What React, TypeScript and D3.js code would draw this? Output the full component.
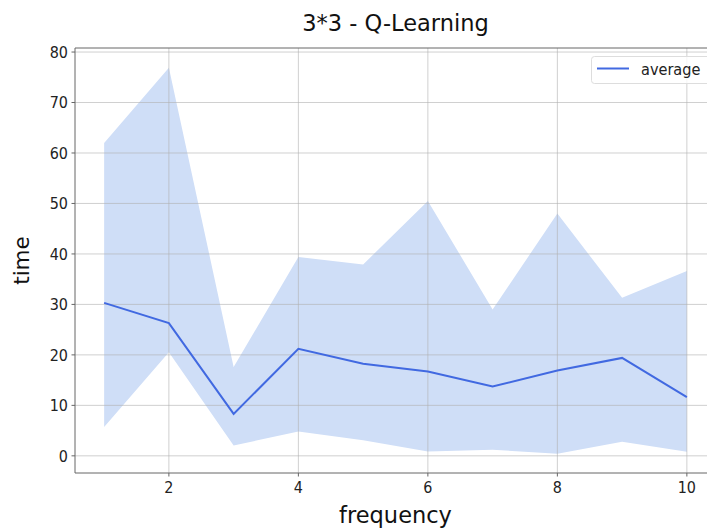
import React from 'react';
import * as d3 from 'd3';

// frequency values on the x axis
const frequency = [1, 2, 3, 4, 5, 6, 7, 8, 9, 10];
// mean time per frequency
const average = [30.3, 26.3, 8.3, 21.2, 18.25, 16.7, 13.75, 16.9, 19.4, 11.65];
// band around the mean
const upper = [62.0, 76.9, 17.6, 39.4, 37.9, 50.5, 29.0, 48.0, 31.3, 36.6];
const lower = [5.7, 20.5, 2.05, 4.8, 3.1, 0.85, 1.2, 0.4, 2.8, 0.8];
const xTicks = [2, 4, 6, 8, 10];
const yTicks = [0, 10, 20, 30, 40, 50, 60, 70, 80];

const width = 707;
const height = 530;
const margin = { left: 75, top: 48, right: -9, bottom: 57 };
const font = 'DejaVu Sans, sans-serif';

// tick and legend text in the picture is a bit narrow, so squeeze it horizontally
function NarrowText(props: { x: number; y: number; anchor?: string; dy?: string; sx?: number; children: any }) {
  const sx = props.sx ?? 0.87;
  return (
    <g transform={`translate(${props.x},${props.y}) scale(${sx},1)`}>
      <text x={0} y={0} dy={props.dy} textAnchor={props.anchor || 'start'} fontFamily={font} fontSize={16.5} fill="#222">
        {props.children}
      </text>
    </g>
  );
}

export default function App() {
  const innerRight = width - margin.right;
  const innerBottom = height - margin.bottom;

  const x = d3.scaleLinear().domain([0.55, 10.45]).range([margin.left, innerRight]);
  const y = d3.scaleLinear().domain([-3.4, 80.8]).range([innerBottom, margin.top]);

  const band = d3.area<number>()
    .x((d, i) => x(frequency[i]))
    .y0((d, i) => y(lower[i]))
    .y1((d) => y(d));

  const line = d3.line<number>()
    .x((d, i) => x(frequency[i]))
    .y((d) => y(d));

  return (
    <div style={{ position: 'fixed', left: 0, top: 0 }}>
      <svg width={width} height={height} style={{ display: 'block', background: '#fff' }}>
        <path d={band(upper) || ''} fill="#cfdef7" />
        {/* grid */}
        {xTicks.map((t) => (
          <line key={'gx' + t} x1={x(t)} x2={x(t)} y1={margin.top} y2={innerBottom}
            stroke="#b0b0b0" strokeOpacity={0.75} strokeWidth={0.8} />
        ))}
        {yTicks.map((t) => (
          <line key={'gy' + t} x1={margin.left} x2={innerRight} y1={y(t)} y2={y(t)}
            stroke="#b0b0b0" strokeOpacity={0.75} strokeWidth={0.8} />
        ))}
        <path d={line(average) || ''} fill="none" stroke="#4169e1" strokeWidth={2} />

        {/* spines */}
        <line x1={margin.left} x2={margin.left} y1={margin.top} y2={innerBottom} stroke="#666" strokeWidth={1} />
        <line x1={margin.left} x2={innerRight} y1={innerBottom} y2={innerBottom} stroke="#666" strokeWidth={1} />
        <line x1={margin.left} x2={innerRight} y1={margin.top} y2={margin.top} stroke="#666" strokeWidth={1} />

        {/* x ticks */}
        {xTicks.map((t) => (
          <g key={'tx' + t}>
            <line x1={x(t)} x2={x(t)} y1={innerBottom} y2={innerBottom + 3.5} stroke="#666" />
            <NarrowText x={x(t)} y={innerBottom + 19.5} anchor="middle">{t}</NarrowText>
          </g>
        ))}
        {/* y ticks */}
        {yTicks.map((t) => (
          <g key={'ty' + t}>
            <line x1={margin.left - 3.5} x2={margin.left} y1={y(t)} y2={y(t)} stroke="#666" />
            <NarrowText x={margin.left - 7} y={y(t)} dy="0.36em" anchor="end">{t}</NarrowText>
          </g>
        ))}

        <text x={(margin.left + innerRight) / 2} y={31} textAnchor="middle" fontFamily={font} fontSize={22.5} fill="#111">3*3 - Q-Learning</text>
        <text x={(margin.left + innerRight) / 2} y={523} textAnchor="middle" fontFamily={font} fontSize={22.5} fill="#111">frequency</text>
        <text transform={`translate(29,${(margin.top + innerBottom) / 2}) rotate(-90)`} textAnchor="middle" fontFamily={font} fontSize={21.5} fill="#111">time</text>

        {/* legend */}
        <rect x={591.5} y={56.5} width={130} height={27} rx={3} fill="#fff" fillOpacity={0.8} stroke="#ddd" />
        <line x1={597} x2={629} y1={68.5} y2={68.5} stroke="#4169e1" strokeWidth={2} />
        <NarrowText x={641} y={69} dy="0.35em" sx={0.88}>average</NarrowText>
      </svg>
    </div>
  );
}
